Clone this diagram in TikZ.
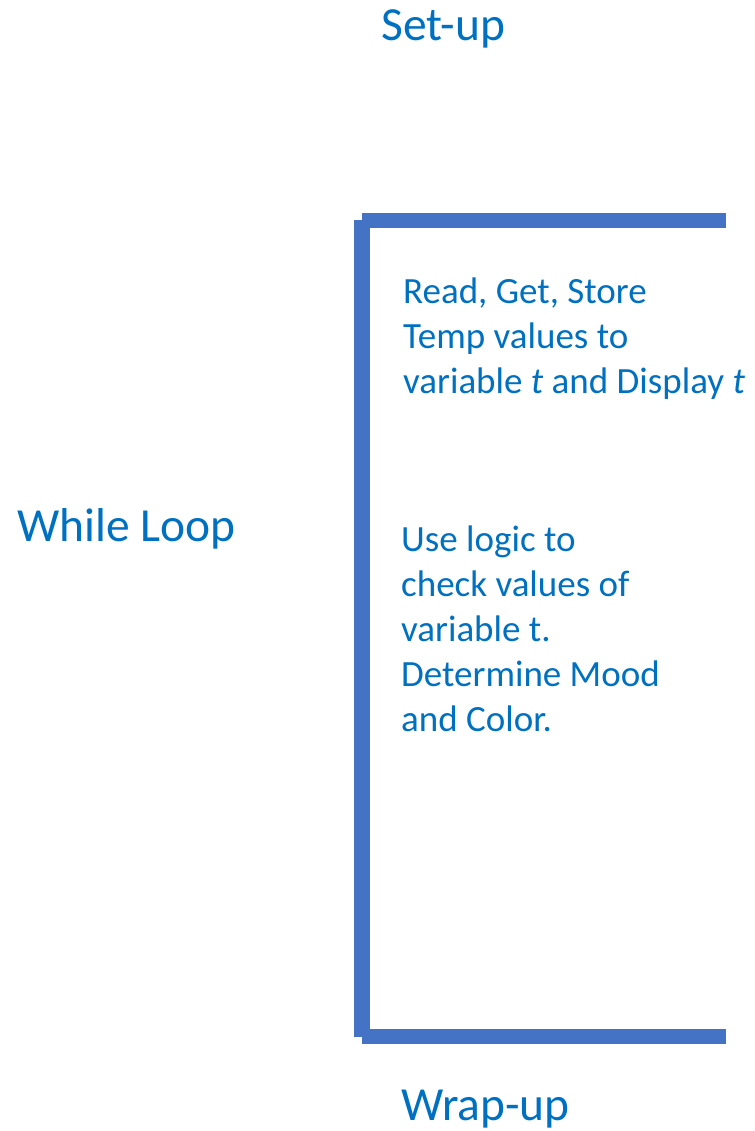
\documentclass[tikz,border=0pt]{standalone}
\usepackage{fontspec}
\setmainfont{Carlito}
\usetikzlibrary{positioning}
\definecolor{textblue}{HTML}{0070C0}
\definecolor{barblue}{HTML}{4472C4}

\begin{document}
\begin{tikzpicture}[x = 1pt, y = -1pt]
	\tikzstyle{titleStyle} = [anchor = base west, inner sep = 0pt, text = textblue, font = \fontsize{47.5}{57}\selectfont]
	\tikzstyle{stepStyle} = [anchor = base west, inner sep = 0pt, text = textblue, align = left, font = \fontsize{37}{45}\selectfont]
	\tikzstyle{barStyle} = [draw = barblue, line width = 15.5pt]
	\useasboundingbox (0, 0) rectangle (754, 1131);
	\coordinate (topleft) at (362, 220.5);
	\coordinate (topright) at (726, 220.5);
	\coordinate (botleft) at (362, 1036.5);
	\coordinate (botright) at (726, 1036.5);
	\node[titleStyle] (setup) at (381, 41) {Set-up};
	\node[titleStyle] (while) at (17, 541) {While Loop};
	\node[titleStyle] (wrap) at (401, 1120) {Wrap-up};
	\node[stepStyle] (read) at (403, 393) {Read, Get, Store\\Temp values to\\variable \textit{t} and Display \textit{t}};
	\node[stepStyle] (logic) at (401, 731) {Use logic to\\check values of\\variable t.\\Determine Mood\\and Color.};
	\draw[barStyle] (topleft) -- (topright);
	\draw[barStyle] (topleft) -- (botleft);
	\draw[barStyle] (botleft) -- (botright);
\end{tikzpicture}
\end{document}
